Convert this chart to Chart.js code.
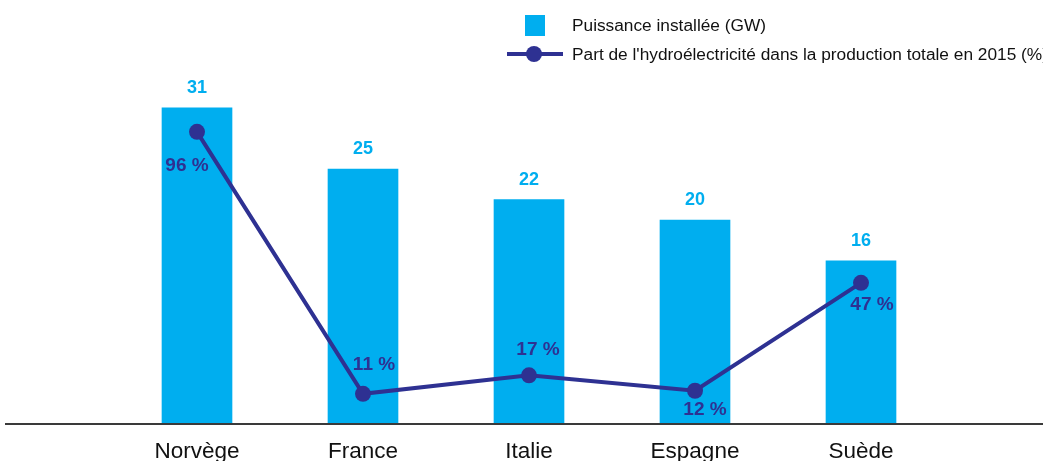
<!DOCTYPE html>
<html><head><meta charset="utf-8">
<script src="https://cdn.jsdelivr.net/npm/chart.js@4/dist/chart.umd.min.js"></script>
<style>html,body{margin:0;padding:0;background:#fff;overflow:hidden;}#wrap{width:1043px;height:461px;position:relative;overflow:hidden;}</style>
</head><body><div id="wrap"><canvas id="c" width="1043" height="479"></canvas></div>
<script>
const categories = ['Norvège', 'France', 'Italie', 'Espagne', 'Suède'];
const puissanceGW = [31, 25, 22, 20, 16];
const partHydro = [96, 11, 17, 12, 47];
const legendLabels = ['Puissance installée (GW)', "Part de l'hydroélectricité dans la production totale en 2015 (%)"];

const BAR_COLOR = '#00AEEF';
const LINE_COLOR = '#2E3192';
const FONT = '"Liberation Sans", Arial, Helvetica, sans-serif';
// label placement for the line values (style only)
const lineLabelOffsets = [[-10, 34], [11, -29], [9, -26], [10, 19], [11, 22]];

const decor = {
  id: 'decor',
  afterDatasetsDraw(chart) {
    const ctx = chart.ctx;
    const area = chart.chartArea;
    ctx.save();
    // baseline
    ctx.strokeStyle = '#3a3a3a';
    ctx.lineWidth = 2;
    ctx.beginPath();
    ctx.moveTo(5, area.bottom);
    ctx.lineTo(chart.width, area.bottom);
    ctx.stroke();
    // bar value labels
    ctx.font = 'bold 18px ' + FONT;
    ctx.textAlign = 'center';
    ctx.textBaseline = 'middle';
    ctx.fillStyle = BAR_COLOR;
    chart.getDatasetMeta(1).data.forEach((b, i) => {
      ctx.fillText(String(puissanceGW[i]), b.x, b.y - 20);
    });
    // line labels
    ctx.font = 'bold 19px ' + FONT;
    ctx.fillStyle = LINE_COLOR;
    chart.getDatasetMeta(0).data.forEach((p, i) => {
      const o = lineLabelOffsets[i];
      ctx.fillText(partHydro[i] + ' %', p.x + o[0], p.y + o[1]);
    });
    // legend
    ctx.textAlign = 'left';
    ctx.font = '17.3px ' + FONT;
    ctx.fillStyle = BAR_COLOR;
    ctx.fillRect(525, 15, 20, 21);
    ctx.fillStyle = '#111';
    ctx.fillText(legendLabels[0], 572, 26);
    ctx.strokeStyle = LINE_COLOR;
    ctx.lineWidth = 4;
    ctx.beginPath();
    ctx.moveTo(507, 54);
    ctx.lineTo(563, 54);
    ctx.stroke();
    ctx.fillStyle = LINE_COLOR;
    ctx.beginPath();
    ctx.arc(534, 54, 8, 0, Math.PI * 2);
    ctx.fill();
    ctx.fillStyle = '#111';
    ctx.fillText(legendLabels[1], 572, 55);
    ctx.restore();
  }
};

new Chart(document.getElementById('c'), {
  type: 'bar',
  data: {
    labels: categories,
    datasets: [
      {
        type: 'line',
        label: legendLabels[1],
        data: partHydro,
        yAxisID: 'y2',
        borderColor: LINE_COLOR,
        backgroundColor: LINE_COLOR,
        borderWidth: 4,
        pointRadius: 8,
        pointBackgroundColor: LINE_COLOR,
        pointBorderWidth: 0,
        tension: 0,
        order: 0
      },
      {
        type: 'bar',
        label: legendLabels[0],
        data: puissanceGW,
        yAxisID: 'y',
        backgroundColor: BAR_COLOR,
        barThickness: 70,
        order: 1
      }
    ]
  },
  options: {
    responsive: false,
    animation: false,
    devicePixelRatio: 1,
    layout: { padding: { left: 114, right: 99, top: 16, bottom: 0 } },
    plugins: { legend: { display: false }, tooltip: { enabled: false }, title: { display: false } },
    scales: {
      x: {
        grid: { display: false, drawTicks: false },
        border: { display: false },
        ticks: { color: '#111', font: { family: FONT, size: 22.5 }, padding: 14 }
      },
      y: { display: false, min: 0, max: 40 },
      y2: { display: false, min: 1.2, max: 133.6 }
    }
  },
  plugins: [decor]
});
</script>
</body></html>
